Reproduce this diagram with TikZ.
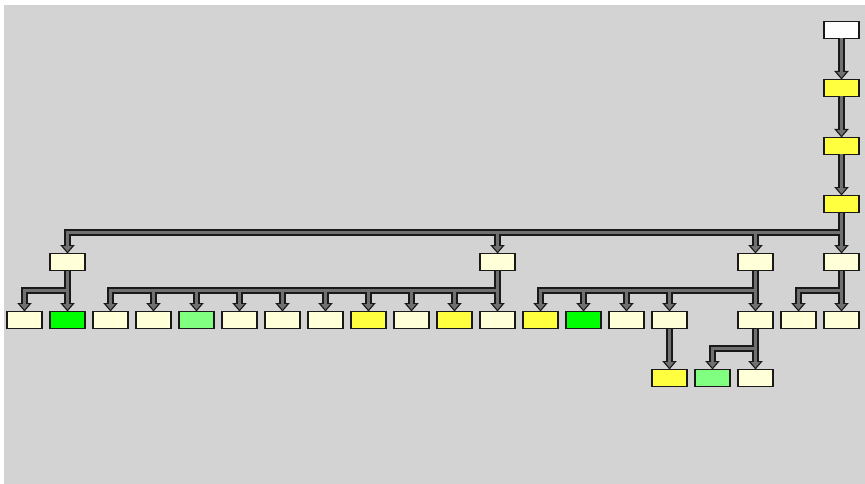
\documentclass[tikz,border=0pt]{standalone}
\usepackage{tikz}
\usetikzlibrary{positioning, arrows.meta}

\definecolor{canvas}{RGB}{211,211,211}
\definecolor{pale}{RGB}{255,255,216}
\definecolor{lemon}{RGB}{255,255,64}
\definecolor{lime}{RGB}{0,255,0}
\definecolor{mint}{RGB}{128,255,128}
\definecolor{pipe}{RGB}{112,112,112}
\definecolor{rim}{RGB}{25,25,25}

\tikzset{
    box/.style={rectangle, draw=rim, line width=1.6pt, minimum width=35pt, minimum height=17pt, inner sep=0pt, outer sep=0pt},
    elbow/.style={to path={(\tikztostart.south) -- ++(0,20) -| (\tikztotarget.north)}},
    outline/.style={elbow, draw=rim, line width=6.8pt, -{Triangle[width=14pt,length=8.5pt]}},
    core/.style={elbow, draw=pipe, line width=3pt, shorten >=1.8pt, -{Triangle[width=8.5pt,length=5.5pt]}}
}

\def\edgelist{r/a1, a1/a2, a2/a3, a3/b1, a3/b2, a3/b3, a3/b4, b1/c1, b1/c2, b2/c3, b2/c4, b2/c5, b2/c6, b2/c7, b2/c8, b2/c9, b2/c10, b2/c11, b2/c12, b3/c13, b3/c14, b3/c15, b3/c16, b3/c17, b4/c18, b4/c19, c16/d1, c17/d2, c17/d3}

\begin{document}
\begin{tikzpicture}[x=1pt, y=-1pt, node distance=41pt and 8pt]
        \useasboundingbox (0,0) rectangle (865,484);
        \fill [white] (0,0) rectangle (865,484);
        \fill [canvas] (4,5) rectangle (865,484);
        % top chain
        \node [box, fill=white] (r) at (841.5,30) {};
        \node [box, fill=lemon, below=of r] (a1) {};
        \node [box, fill=lemon, below=of a1] (a2) {};
        \node [box, fill=lemon, below=of a2] (a3) {};
        \node [box, fill=pale, below=of a3] (b4) {};
        % bottom row, right to left
        \node [box, fill=pale, below=of b4] (c19) {};
        \node [box, fill=pale, left=of c19] (c18) {};
        \node [box, fill=pale, left=of c18] (c17) {};
        \node [box, fill=pale, left=51pt of c17] (c16) {};
        \node [box, fill=pale, left=of c16] (c15) {};
        \node [box, fill=lime, left=of c15] (c14) {};
        \node [box, fill=lemon, left=of c14] (c13) {};
        \node [box, fill=pale, left=of c13] (c12) {};
        \node [box, fill=lemon, left=of c12] (c11) {};
        \node [box, fill=pale, left=of c11] (c10) {};
        \node [box, fill=lemon, left=of c10] (c9) {};
        \node [box, fill=pale, left=of c9] (c8) {};
        \node [box, fill=pale, left=of c8] (c7) {};
        \node [box, fill=pale, left=of c7] (c6) {};
        \node [box, fill=mint, left=of c6] (c5) {};
        \node [box, fill=pale, left=of c5] (c4) {};
        \node [box, fill=pale, left=of c4] (c3) {};
        \node [box, fill=lime, left=of c3] (c2) {};
        \node [box, fill=pale, left=of c2] (c1) {};
        % middle row
        \node [box, fill=pale, above=of c2] (b1) {};
        \node [box, fill=pale, above=of c12] (b2) {};
        \node [box, fill=pale, above=of c17] (b3) {};
        % last row
        \node [box, fill=lemon, below=of c16] (d1) {};
        \node [box, fill=mint, right=of d1] (d2) {};
        \node [box, fill=pale, right=of d2] (d3) {};
        % pipes: dark rims first, grey cores on top
        \foreach \p/\c in \edgelist
            \draw [outline] (\p) to (\c);
        \foreach \p/\c in \edgelist
            \draw [core] (\p) to (\c);
\end{tikzpicture}
\end{document}
